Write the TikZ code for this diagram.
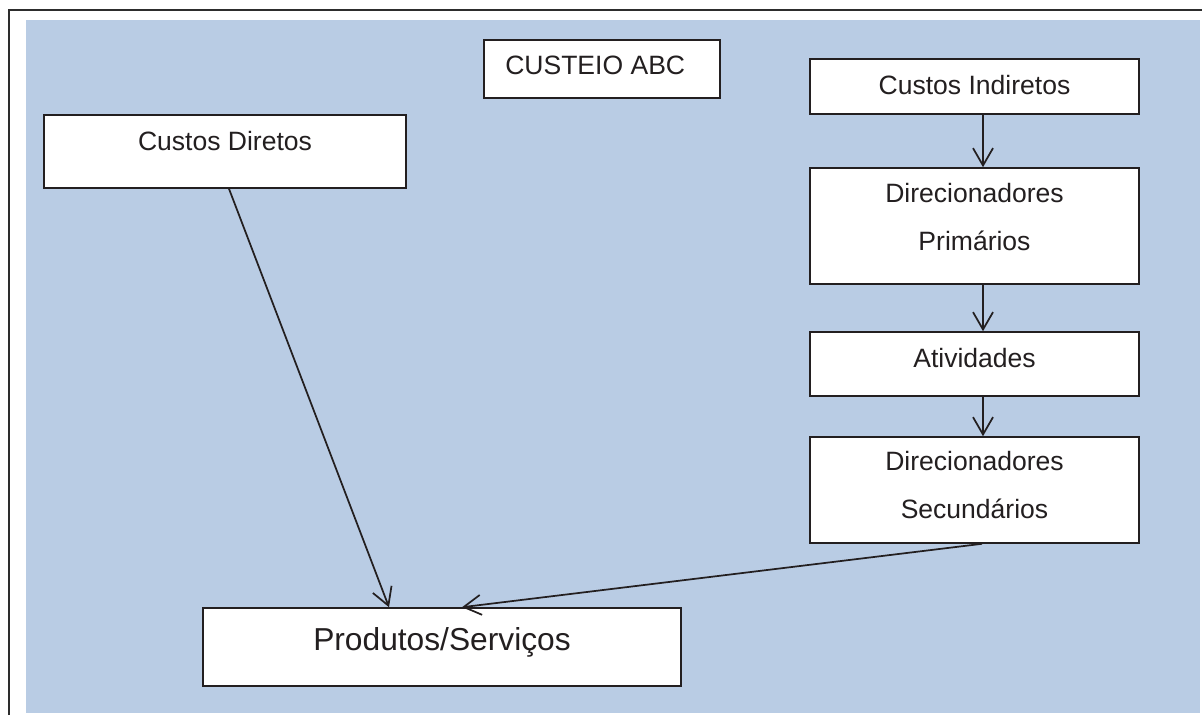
\documentclass[tikz,border=0pt]{standalone}
\usepackage{fontspec}
\setmainfont{Liberation Sans}
\usetikzlibrary{arrows.meta,calc}
\definecolor{panel}{RGB}{185,204,228}
\definecolor{ink}{RGB}{35,31,32}
\definecolor{frame}{RGB}{45,45,45}
\tikzset{
  box/.style={draw=ink, fill=white, line width=1.2pt, rectangle, inner sep=0pt},
  lbl/.style={text=ink, anchor=base, inner sep=0pt, align=center,
              font=\fontsize{19.9}{35.3}\selectfont},
  biglbl/.style={lbl, font=\fontsize{23.8}{30}\selectfont},
  arr/.style={draw=ink, line width=1.3pt,
              -{Straight Barb[length=13pt, width=15pt, line width=1.3pt]}}
}
\begin{document}
\begin{tikzpicture}[x=0.75pt, y=-0.75pt]
\useasboundingbox (0,0) rectangle (1202,715);
% page frame and background panel
\fill[panel] (26,20) rectangle (1200,713);
\draw[frame, line width=1.6pt] (9,715) -- (9,10) -- (1202,10);

% boxes
\node[box, minimum width=236*0.75pt, minimum height=58*0.75pt] (title) at (602,69) {};
\node[box, minimum width=362*0.75pt, minimum height=73*0.75pt] (cd) at (225,151.5) {};
\node[box, minimum width=329*0.75pt, minimum height=55*0.75pt] (ci) at (974.5,86.5) {};
\node[box, minimum width=329*0.75pt, minimum height=116*0.75pt] (dp) at (974.5,226) {};
\node[box, minimum width=329*0.75pt, minimum height=64*0.75pt] (at) at (974.5,364) {};
\node[box, minimum width=329*0.75pt, minimum height=106*0.75pt] (ds) at (974.5,490) {};
\node[box, minimum width=478*0.75pt, minimum height=78*0.75pt] (ps) at (442,647) {};

% texts (two-line labels sit on the baseline of their last line)
\node[lbl, anchor=base west] (titletxt) at (505,74) {CUSTEIO ABC};
\node[lbl] (cdtxt) at (225,150) {Custos Diretos};
\node[lbl] (citxt) at (974.5,94) {Custos Indiretos};
\node[lbl] (dptxt) at (974.5,250) {Direcionadores\\Primários};
\node[lbl] (attxt) at (974.5,367) {Atividades};
\node[lbl] (dstxt) at (974.5,518) {Direcionadores\\Secundários};
\node[biglbl] (pstxt) at (442,650) {Produtos/Serviços};

% connectors
\draw[arr] ($(ci.south)+(8.5,0)$) -- ($(dp.north)+(8.5,0)$);
\draw[arr] ($(dp.south)+(8.5,0)$) -- ($(at.north)+(8.5,0)$);
\draw[arr] ($(at.south)+(8.5,0)$) -- ($(ds.north)+(8.5,0)$);
\draw[arr] ($(cd.south)+(4,0)$) -- ($(ps.north)+(-53,0)$);
\draw[arr] ($(ds.south)+(7.5,0)$) -- ($(ps.north)+(20,0)$);
\end{tikzpicture}
\end{document}
